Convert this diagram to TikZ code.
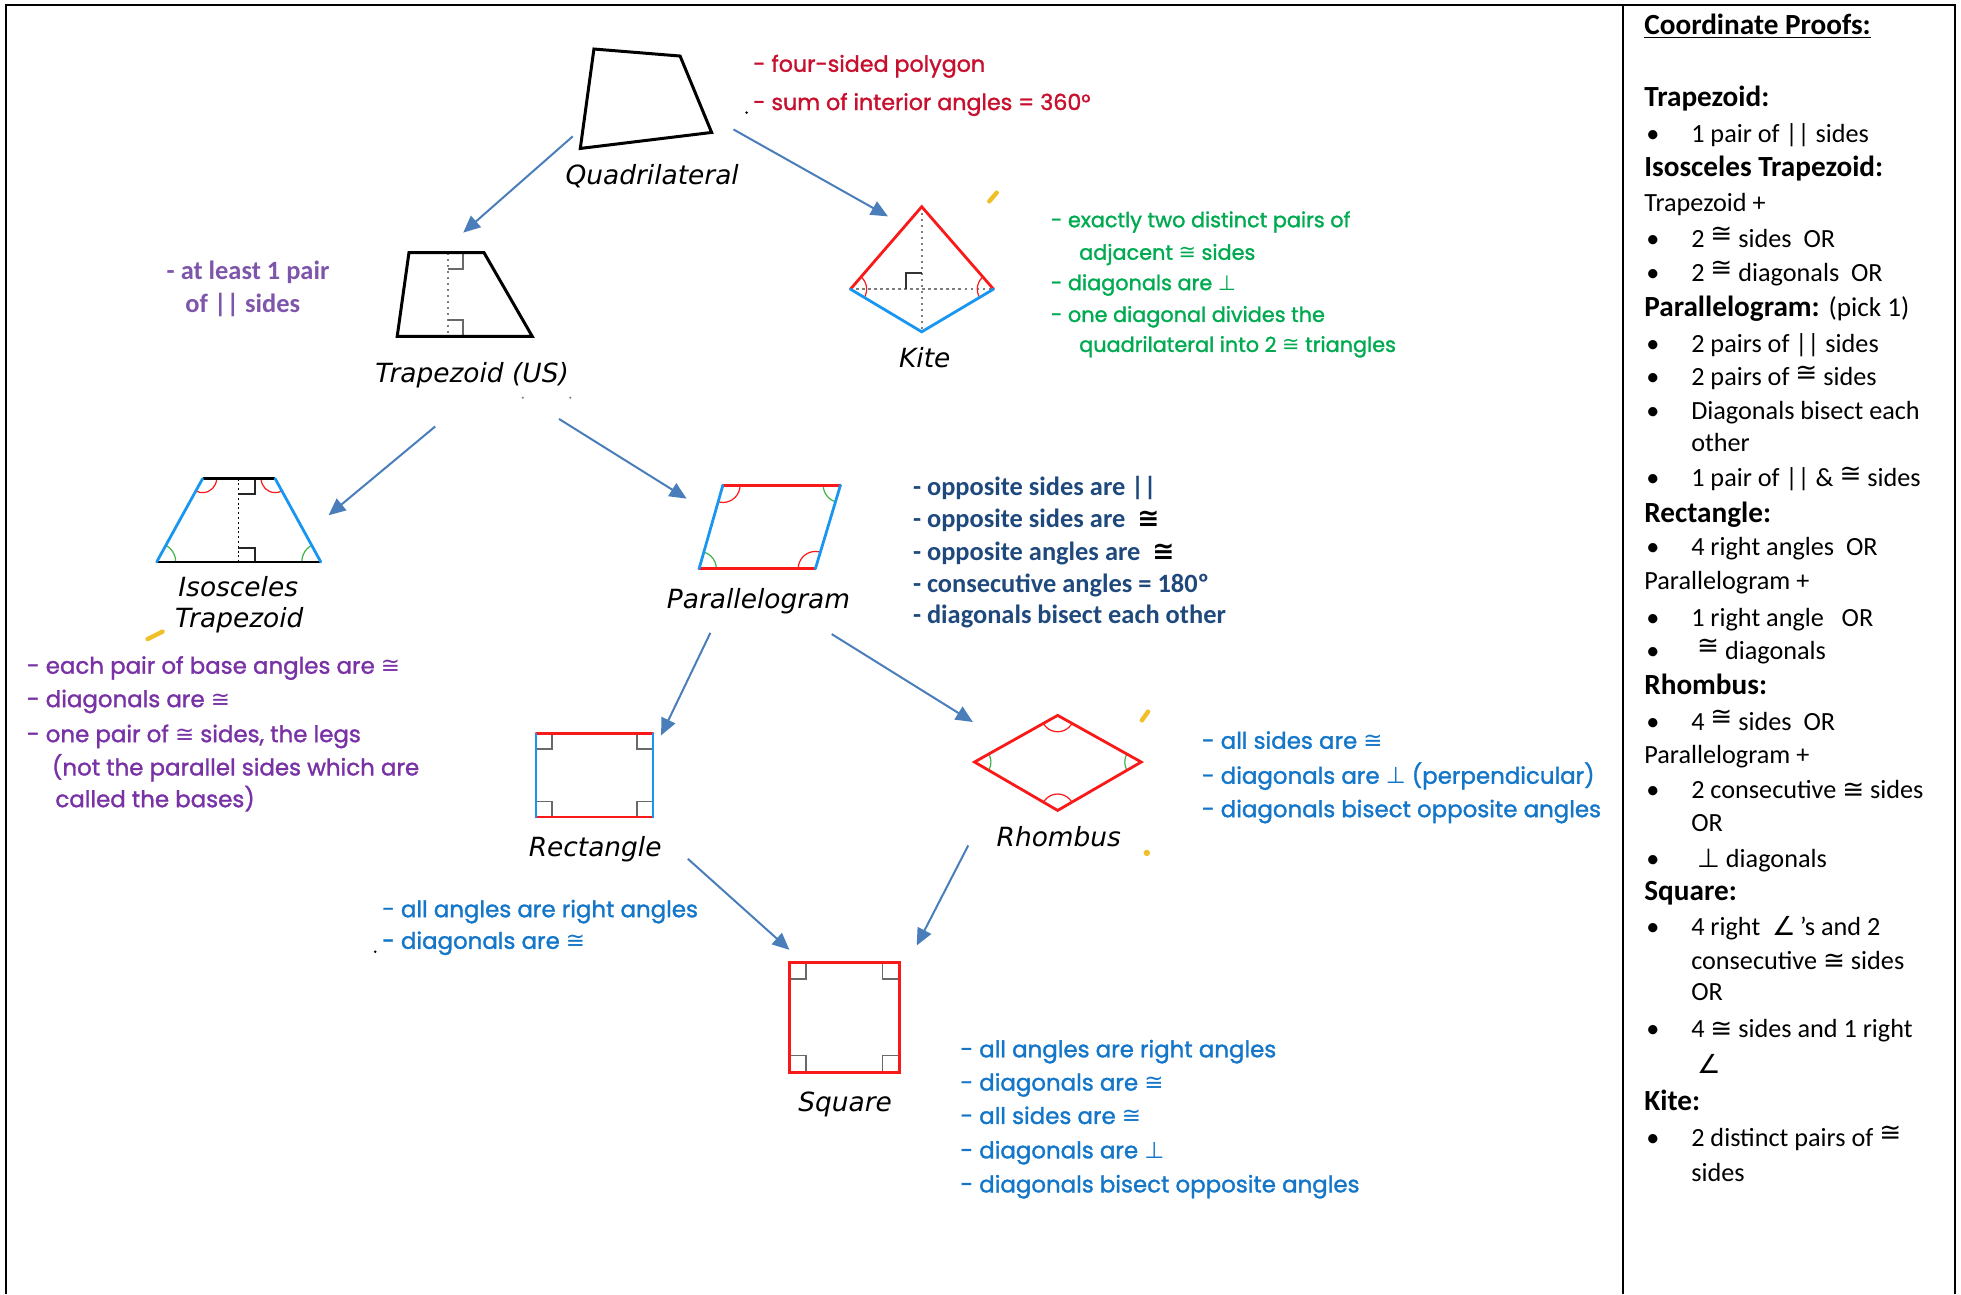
\documentclass[tikz,border=0pt]{standalone}
\usepackage{fontspec}
\setmainfont{Carlito}
\newfontfamily\gothic[FakeBold=1.4]{Poppins}
\newfontfamily\comicf{DejaVu Sans}
\newfontfamily\symf{DejaVu Sans}
\usetikzlibrary{arrows.meta}
\definecolor{arrowblue}{RGB}{74,126,187}
\definecolor{shred}{RGB}{250,25,25}
\definecolor{shblue}{RGB}{25,150,240}
\definecolor{shgreen}{RGB}{60,180,70}
\definecolor{markgray}{RGB}{105,105,105}
\definecolor{dotgray}{RGB}{125,125,125}
\definecolor{txtred}{RGB}{200,16,46}
\definecolor{txtgreen}{RGB}{0,170,80}
\definecolor{txtpurple}{RGB}{120,50,165}
\definecolor{txtpurple2}{RGB}{125,85,170}
\definecolor{txtdblue}{RGB}{31,73,125}
\definecolor{txtlblue}{RGB}{20,118,200}
\definecolor{yel}{RGB}{240,192,40}
\newcommand{\cg}{{\symf ≅}}
\newcommand{\pp}{{\symf ⊥}}
\newcommand{\ang}{{\symf ∠}}
\newcommand{\rcg}{\raisebox{0.35ex}{\symf ≅}}
\newcommand{\bcg}{{\color{black}\symf ≅}}
\tikzset{
  lbl/.style={font=\comicf\itshape\fontsize{13.2}{16}\selectfont, inner sep=0pt, anchor=mid, yshift=-2.5pt},
  gt/.style={font=\gothic\fontsize{11.45}{14}\selectfont, inner sep=0pt, anchor=mid west, yshift=-1.8pt},
  gtred/.style={gt, font=\gothic\fontsize{11.1}{14}\selectfont, text=txtred},
  gtgreen/.style={gt, font=\gothic\fontsize{10.4}{13}\selectfont, text=txtgreen},
  cb/.style={font=\fontsize{13.2}{16}\selectfont\bfseries, inner sep=0pt, anchor=mid west, yshift=-1.8pt},
  rc/.style={font=\fontsize{13.1}{16}\selectfont, inner sep=0pt, anchor=mid west, yshift=-1.6pt},
  rch/.style={font=\fontsize{14.6}{17}\selectfont\bfseries, inner sep=0pt, anchor=mid west, yshift=-1.6pt},
  arr/.style={draw=arrowblue, line width=1pt, -{Triangle[length=8.5pt,width=7.5pt]}},
  blk/.style={draw=black, line width=1.5pt, line join=miter},
  rd/.style={draw=shred, line width=1.4pt, line cap=round},
  bl/.style={draw=shblue, line width=1.4pt, line cap=round},
  rmark/.style={draw=markgray, line width=0.9pt},
  dotl/.style={draw=dotgray, line width=1.2pt, dash pattern=on 1.2pt off 1.8pt},
  arcr/.style={draw=shred, line width=0.6pt},
  arcg/.style={draw=shgreen, line width=0.6pt},
  yelmark/.style={draw=yel, line width=2.2pt, line cap=round}
}
\newcommand{\rcitem}[3]{\node[rc] (#1) at (1352,#2) {#3}; \node[rc] (#1b) at (1316,#2) {•};}
\begin{document}
\begin{tikzpicture}[x=0.625pt,y=-0.625pt]
\useasboundingbox (0,0) rectangle (1568,1035);
% table frame
\draw[line width=1.1pt] (4.8,1035) -- (4.8,4) -- (1563.5,4) -- (1563.5,1035);
\draw[line width=1.1pt] (1298,4) -- (1298,1035);

% ---------- Quadrilateral
\draw[blk] (474.9,39.2) -- (543.8,44.8) -- (569,105.9) -- (464,118.7) -- cycle;
\node[lbl] (quad) at (521.5,140) {Quadrilateral};
\node[gtred] (qt1) at (602,50.7) {- four-sided polygon};
\node[gtred] (qt2) at (602,81.3) {- sum of interior angles = 360°};
\fill (597,90) circle[radius=0.7pt];

% ---------- Trapezoid
\draw[dotl] (358,202) -- (358,269);
\draw[rmark] (358,215) -- (370,215) -- (370,202);
\draw[rmark] (358,256) -- (370,256) -- (370,269);
\draw[blk] (327,202) -- (387,202) -- (425.6,269) -- (317.6,269) -- cycle;
\node[lbl] (trap) at (377.5,298) {Trapezoid (US)};
\fill[gray] (418,318) circle[radius=0.6pt];
\fill[gray] (456,318) circle[radius=0.6pt];
\node[cb, text=txtpurple2] (tt1) at (133,217) {- at least 1 pair};
\node[cb, text=txtpurple2] (tt2) at (148,243) {of || sides};

% ---------- Kite
\draw[dotl] (737,165.3) -- (737,265.3);
\draw[dotl] (680,231.2) -- (794.4,231.2);
\draw[draw=black!80, line width=0.9pt] (724.5,231) -- (724.5,218.5) -- (737,218.5);
\begin{scope}
  \clip (680,231.2) -- (737,165.3) -- (794.4,231.2) -- (737,265.3) -- cycle;
  \draw[arcr] (680,231.2) circle[radius=8.1pt];
  \draw[arcr] (794.4,231.2) circle[radius=8.1pt];
\end{scope}
\draw[rd] (680,231.2) -- (737,165.3) -- (794.4,231.2);
\draw[bl] (680,231.2) -- (737,265.3) -- (794.4,231.2);
\node[lbl] (kite) at (739.4,286.4) {Kite};
\draw[yelmark] (791,161) -- (797,154);
\node[gtgreen] (kt1) at (840,175) {- exactly two distinct pairs of};
\node[gtgreen] (kt2) at (862.6,201) {adjacent \cg\ sides};
\node[gtgreen] (kt3) at (840,225.3) {- diagonals are \pp};
\node[gtgreen] (kt4) at (840,250.7) {- one diagonal divides the};
\node[gtgreen] (kt5) at (862.6,274.7) {quadrilateral into 2 \cg\ triangles};

% ---------- Isosceles trapezoid
\draw[draw=black, line width=0.8pt, dash pattern=on 1pt off 1.4pt] (190.7,382.7) -- (190.7,449.3);
\draw[rmark, draw=black!85] (190.7,395.2) -- (204,395.2) -- (204,382.7);
\draw[rmark, draw=black!85] (190.7,437.9) -- (204,437.9) -- (204,449.3);
\begin{scope}
  \clip (162,382.7) -- (220,382.7) -- (256.5,449.3) -- (125.3,449.3) -- cycle;
  \draw[arcr] (162,382.7) circle[radius=7pt];
  \draw[arcr] (220,382.7) circle[radius=7pt];
  \draw[arcg] (125.3,449.3) circle[radius=9.5pt];
  \draw[arcg] (256.5,449.3) circle[radius=9.5pt];
\end{scope}
\draw[draw=black, line width=1.4pt] (162,382.7) -- (220,382.7);
\draw[draw=black, line width=1.4pt] (125.3,449.3) -- (256.5,449.3);
\draw[bl] (162,382.7) -- (125.3,449.3);
\draw[bl] (220,382.7) -- (256.5,449.3);
\node[lbl] (iso1) at (190.5,469.3) {Isosceles};
\node[lbl] (iso2) at (191.3,494) {Trapezoid};
\draw[yelmark] (118,511) -- (130,505);
\node[gt, text=txtpurple] (it1) at (21.3,532) {- each pair of base angles are \cg};
\node[gt, text=txtpurple] (it2) at (21.3,558.7) {- diagonals are \cg};
\node[gt, text=txtpurple] (it3) at (21.3,586.7) {- one pair of \cg\ sides, the legs};
\node[gt, text=txtpurple] (it4) at (41.3,613.3) {(not the parallel sides which are};
\node[gt, text=txtpurple] (it5) at (44,638.7) {called the bases)};

% ---------- Parallelogram
\begin{scope}
  \clip (578,388) -- (672,388) -- (652,454.7) -- (559,454.7) -- cycle;
  \draw[arcr] (578,388) circle[radius=8.6pt];
  \draw[arcg] (672,388) circle[radius=8.6pt];
  \draw[arcr] (652,454.7) circle[radius=8.6pt];
  \draw[arcg] (559,454.7) circle[radius=8.6pt];
\end{scope}
\draw[rd] (578,388) -- (672,388);
\draw[rd] (559,454.7) -- (652,454.7);
\draw[bl] (578,388) -- (559,454.7);
\draw[bl] (672,388) -- (652,454.7);
\node[lbl] (para) at (606.5,478.7) {Parallelogram};
\node[cb, text=txtdblue] (pt1) at (729.7,389.3) {- opposite sides are ||};
\node[cb, text=txtdblue] (pt2) at (729.7,414.7) {- opposite sides are\ \ \bcg};
\node[cb, text=txtdblue] (pt3) at (729.7,441.3) {- opposite angles are\ \ \bcg};
\node[cb, text=txtdblue] (pt4) at (729.7,466.7) {- consecutive angles = 180º};
\node[cb, text=txtdblue] (pt5) at (729.7,492) {- diagonals bisect each other};

% ---------- Rectangle
\draw[rmark] (428.6,599.2) -- (441.1,599.2) -- (441.1,586.7);
\draw[rmark] (522.1,599.2) -- (509.6,599.2) -- (509.6,586.7);
\draw[rmark] (428.6,640.8) -- (441.1,640.8) -- (441.1,653.3);
\draw[rmark] (522.1,640.8) -- (509.6,640.8) -- (509.6,653.3);
\draw[rd] (428.6,586.7) -- (522.1,586.7);
\draw[rd] (428.6,653.3) -- (522.1,653.3);
\draw[bl] (428.6,586.7) -- (428.6,653.3);
\draw[bl] (522.1,586.7) -- (522.1,653.3);
\node[lbl] (rect) at (475.9,677.3) {Rectangle};
\node[gt, text=txtlblue] (rt1) at (305.3,726.7) {- all angles are right angles};
\node[gt, text=txtlblue] (rt2) at (305.3,752) {- diagonals are \cg};
\fill (300,761) circle[radius=0.7pt];

% ---------- Rhombus
\begin{scope}
  \clip (845.7,572) -- (912.5,609.3) -- (845.7,648) -- (779.2,609.3) -- cycle;
  \draw[arcr] (845.7,572) circle[radius=8.2pt];
  \draw[arcr] (845.7,648) circle[radius=8.2pt];
  \draw[arcg] (779.2,609.3) circle[radius=8.2pt];
  \draw[arcg] (912.5,609.3) circle[radius=8.2pt];
\end{scope}
\draw[rd, line join=miter] (845.7,572) -- (912.5,609.3) -- (845.7,648) -- (779.2,609.3) -- cycle;
\node[lbl] (rhom) at (846.6,669.3) {Rhombus};
\draw[yelmark] (913,576) -- (918,569);
\fill[yel] (917,682) circle[radius=1.6pt];
\node[gt, text=txtlblue] (ht1) at (960.8,592) {- all sides are \cg};
\node[gt, text=txtlblue] (ht2) at (960.8,620) {- diagonals are \pp\ (perpendicular)};
\node[gt, text=txtlblue] (ht3) at (960.8,646.7) {- diagonals bisect opposite angles};

% ---------- Square
\draw[rmark] (631.2,782.6) -- (644.5,782.6) -- (644.5,769.3);
\draw[rmark] (719,782.6) -- (705.7,782.6) -- (705.7,769.3);
\draw[rmark] (631.2,844) -- (644.5,844) -- (644.5,857.3);
\draw[rmark] (719,844) -- (705.7,844) -- (705.7,857.3);
\draw[rd, line cap=butt, line join=miter] (631.2,769.3) rectangle (719,857.3);
\node[lbl] (sq) at (675.7,881.3) {Square};
\node[gt, text=txtlblue] (st1) at (767.7,838.7) {- all angles are right angles};
\node[gt, text=txtlblue] (st2) at (767.7,865.3) {- diagonals are \cg};
\node[gt, text=txtlblue] (st3) at (767.7,892) {- all sides are \cg};
\node[gt, text=txtlblue] (st4) at (767.7,919.5) {- diagonals are \pp};
\node[gt, text=txtlblue] (st5) at (767.7,946.7) {- diagonals bisect opposite angles};

% ---------- arrows
\coordinate (a1s) at (458,109);   \coordinate (a1e) at (370.4,186);
\coordinate (a2s) at (586.5,103.5); \coordinate (a2e) at (710,173);
\coordinate (a3s) at (348,341);   \coordinate (a3e) at (262.7,412);
\coordinate (a4s) at (447,335);   \coordinate (a4e) at (549,398.7);
\coordinate (a5s) at (568,506);   \coordinate (a5e) at (528.6,588);
\coordinate (a6s) at (665,507);   \coordinate (a6e) at (777.9,577.3);
\coordinate (a7s) at (550,686.7); \coordinate (a7e) at (631.2,759.5);
\coordinate (a8s) at (774.2,676); \coordinate (a8e) at (733,756);
\draw[arr] (a1s) -- (a1e);
\draw[arr] (a2s) -- (a2e);
\draw[arr] (a3s) -- (a3e);
\draw[arr] (a4s) -- (a4e);
\draw[arr] (a5s) -- (a5e);
\draw[arr] (a6s) -- (a6e);
\draw[arr] (a7s) -- (a7e);
\draw[arr] (a8s) -- (a8e);

% ---------- right column
\node[rch] (cp) at (1314.5,21) {\underline{Coordinate Proofs:}};
\node[rch] (h1) at (1314.5,79) {Trapezoid:};
\rcitem{b1}{107.5}{1 pair of || sides}
\node[rch] (h2) at (1314.5,134.4) {Isosceles Trapezoid:};
\node[rc] (p1) at (1314.5,162.9) {Trapezoid +};
\rcitem{b2}{191.4}{2 \rcg\ sides\ \ OR}
\rcitem{b3}{218.3}{2 \rcg\ diagonals\ \ OR}
\node[rch] (h3) at (1314.5,246.7) {Parallelogram: {\mdseries\fontsize{13.6}{16}\selectfont (pick 1)}};
\rcitem{b4}{275.2}{2 pairs of || sides}
\rcitem{b5}{302}{2 pairs of \rcg\ sides}
\rcitem{b6}{329}{Diagonals bisect each}
\node[rc] (b6x) at (1352,354.3) {other};
\rcitem{b7}{382.7}{1 pair of || \& \rcg\ sides}
\node[rch] (h4) at (1314.5,411.2) {Rectangle:};
\rcitem{b8}{438.1}{4 right angles\ \ OR}
\node[rc] (p2) at (1314.5,465) {Parallelogram +};
\rcitem{b9}{494.2}{1 right angle\ \ \ OR}
\rcitem{b10}{520.7}{\ \rcg\ diagonals}
\node[rch] (h5) at (1314.5,549) {Rhombus:};
\rcitem{b11}{577.4}{4 \rcg\ sides\ \ OR}
\node[rc] (p3) at (1314.5,603.9) {Parallelogram +};
\rcitem{b12}{632.2}{2 consecutive \cg\ sides}
\node[rc] (b12x) at (1352,658.8) {OR};
\rcitem{b13}{687}{\ \pp\ diagonals}
\node[rch] (h6) at (1314.5,713.6) {Square:};
\rcitem{b14}{741.9}{4 right \ \ang\,’s and 2}
\node[rc] (b14x) at (1352,768.5) {consecutive \cg\ sides};
\node[rc] (b14y) at (1352,793.3) {OR};
\rcitem{b15}{823.4}{4 \cg\ sides and 1 right}
\node[rc] (b15x) at (1352,851.7) {\ \ang};
\node[rch] (h7) at (1314.5,881.8) {Kite:};
\rcitem{b16}{910.1}{2 distinct pairs of \rcg}
\node[rc] (b16x) at (1352,938.4) {sides};
\end{tikzpicture}
\end{document}
